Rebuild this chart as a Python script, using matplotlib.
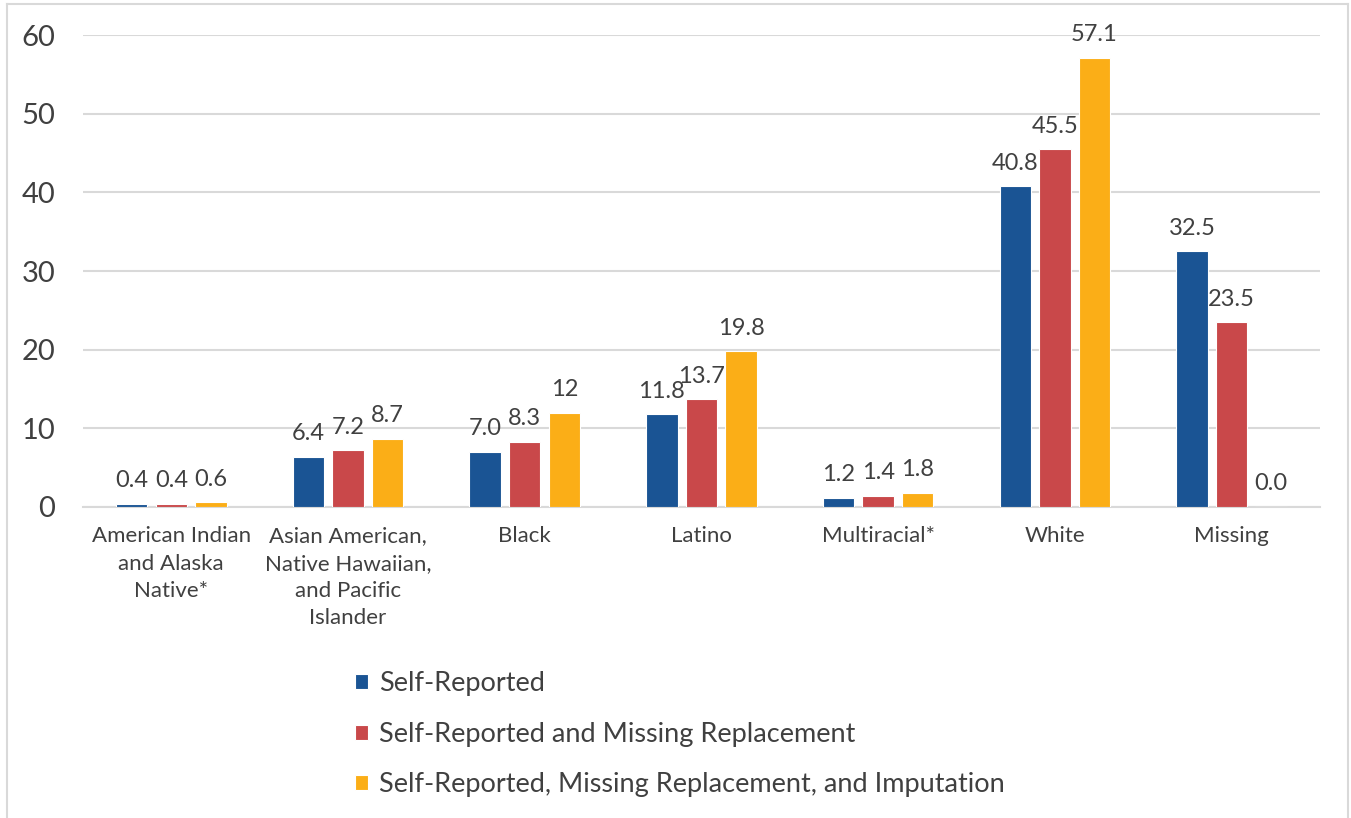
import numpy as np
import matplotlib
matplotlib.use("Agg")
from matplotlib import pyplot as plt
from matplotlib.lines import Line2D

plt.rcParams['font.family'] = ['Lato', 'DejaVu Sans']

categories = ["American Indian\nand Alaska\nNative*",
              "Asian American,\nNative Hawaiian,\nand Pacific\nIslander",
              "Black", "Latino", "Multiracial*", "White", "Missing"]
series_names = ["Self-Reported",
                "Self-Reported and Missing Replacement",
                "Self-Reported, Missing Replacement, and Imputation"]
self_reported = [0.4, 6.4, 7.0, 11.8, 1.2, 40.8, 32.5]
missing_repl = [0.4, 7.2, 8.3, 13.7, 1.4, 45.5, 23.5]
imputation = [0.6, 8.7, 12, 19.8, 1.8, 57.1, 0.0]
label_text = [
    ["0.4", "6.4", "7.0", "11.8", "1.2", "40.8", "32.5"],
    ["0.4", "7.2", "8.3", "13.7", "1.4", "45.5", "23.5"],
    ["0.6", "8.7", "12", "19.8", "1.8", "57.1", "0.0"],
]
colors = ["#1A5494", "#C9484A", "#FBAE17"]
text_col = "#404040"
grid_col = "#D9D9D9"

fig = plt.figure(figsize=(13.51, 8.18), dpi=100)
ax = fig.add_axes([0.0614, 0.3802, 0.977 - 0.0614, 0.9572 - 0.3802])

x = np.arange(len(categories))
width = 0.178
step = 0.224
for i, vals in enumerate([self_reported, missing_repl, imputation]):
    pos = x + (i - 1) * step
    bars = ax.bar(pos, vals, width, color=colors[i], edgecolor="white",
                  linewidth=0.8, label=series_names[i], zorder=3)
    for b, t in zip(bars, label_text[i]):
        ax.annotate(t, (b.get_x() + b.get_width() / 2, b.get_height()),
                    xytext=(0, 9), textcoords="offset points",
                    ha="center", va="bottom", fontsize=17, color=text_col)

ax.set_xlim(-0.5, len(categories) - 0.5)
ax.set_ylim(0, 60)
ax.set_yticks(range(0, 61, 10))
ax.yaxis.grid(True, color=grid_col, linewidth=1.5, zorder=0)
ax.set_axisbelow(True)
for s in ["top", "right", "left"]:
    ax.spines[s].set_visible(False)
ax.spines["bottom"].set_color(grid_col)
ax.spines["bottom"].set_linewidth(1.5)
ax.tick_params(axis="y", length=0, pad=20, labelsize=21, labelcolor=text_col)
ax.tick_params(axis="x", length=0, pad=14)
ax.set_xticks(x)
ax.set_xticklabels(categories, fontsize=16, color=text_col, va="top",
                   linespacing=1.45)

handles, labels = ax.get_legend_handles_labels()
leg = fig.legend(handles, labels, loc="upper left",
                 bbox_to_anchor=(0.2548, 0.193), frameon=False,
                 fontsize=19.5, handlelength=0.47, handleheight=0.47,
                 handletextpad=0.4, labelspacing=0.95, borderaxespad=0)
for t in leg.get_texts():
    t.set_color(text_col)

# light frame around the chart (bottom edge is cut off)
for xs, ys in [([0.0055, 0.0055], [0, 0.995]),
               ([0.9975, 0.9975], [0, 0.995]),
               ([0.0055, 0.9975], [0.995, 0.995])]:
    fig.add_artist(Line2D(xs, ys, color=grid_col, linewidth=1.5,
                          transform=fig.transFigure))

fig.savefig("out.png", dpi=100)
